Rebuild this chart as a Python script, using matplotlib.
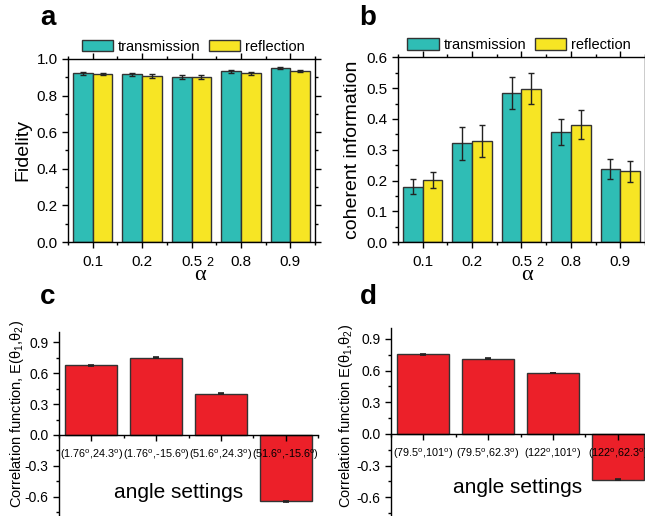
import numpy as np
import matplotlib.pyplot as plt
from matplotlib.patches import Patch
from matplotlib.ticker import MultipleLocator

plt.rcParams['font.family'] = ['Liberation Sans', 'DejaVu Sans']
plt.rcParams['axes.unicode_minus'] = False
plt.rcParams['mathtext.fontset'] = 'custom'
plt.rcParams['mathtext.rm'] = 'Liberation Sans'
plt.rcParams['mathtext.it'] = 'Liberation Sans'

# data
alpha2 = ['0.1', '0.2', '0.5', '0.8', '0.9']
fid_trans = [0.923, 0.916, 0.899, 0.934, 0.950]
fid_trans_err = [0.008, 0.010, 0.011, 0.008, 0.006]
fid_refl = [0.918, 0.907, 0.901, 0.922, 0.935]
fid_refl_err = [0.007, 0.011, 0.010, 0.009, 0.006]

ci_trans = [0.181, 0.321, 0.485, 0.358, 0.238]
ci_trans_err = [0.025, 0.053, 0.051, 0.043, 0.032]
ci_refl = [0.202, 0.329, 0.498, 0.382, 0.230]
ci_refl_err = [0.027, 0.051, 0.050, 0.046, 0.033]

angles_c = ['(1.76$^o$,24.3$^o$)', '(1.76$^o$,-15.6$^o$)', '(51.6$^o$,24.3$^o$)', '(51.6$^o$,-15.6$^o$)']
corr_c = [0.676, 0.747, 0.400, -0.642]
corr_c_err = [0.004, 0.004, 0.004, 0.004]
angles_d = ['(79.5$^o$,101$^o$)', '(79.5$^o$,62.3$^o$)', '(122$^o$,101$^o$)', '(122$^o$,62.3$^o$)']
corr_d = [0.756, 0.714, 0.577, -0.434]
corr_d_err = [0.004, 0.004, 0.004, 0.004]

TEAL = '#2fbdb5'
YELLOW = '#f7e524'
RED = '#ec2029'
EDGE = '#333333'

fig = plt.figure(figsize=(6.45, 5.16), dpi=100)


def top_panel(ax, trans, terr, refl, rerr, ylim, major, minor, ylabel, leg_x):
    x = np.arange(len(alpha2))
    ax.bar(x - 0.2, trans, 0.4, color=TEAL, edgecolor=EDGE, linewidth=1, zorder=2)
    ax.bar(x + 0.2, refl, 0.4, color=YELLOW, edgecolor=EDGE, linewidth=1, zorder=2)
    ax.errorbar(x - 0.2, trans, yerr=terr, fmt='none', ecolor='#222222', elinewidth=1, capsize=2.2, capthick=1, zorder=3)
    ax.errorbar(x + 0.2, refl, yerr=rerr, fmt='none', ecolor='#222222', elinewidth=1, capsize=2.2, capthick=1, zorder=3)
    ax.set_xlim(-0.5, 4.5)
    ax.set_ylim(*ylim)
    ax.set_xticks(x)
    ax.set_xticklabels(alpha2)
    ax.xaxis.set_minor_locator(MultipleLocator(0.5))
    ax.yaxis.set_major_locator(MultipleLocator(major))
    ax.yaxis.set_minor_locator(MultipleLocator(minor))
    ax.tick_params(which='both', labelsize=11, direction='out', top=True, right=True, width=1)
    ax.tick_params(which='major', length=4)
    ax.tick_params(which='minor', length=2.5)
    ax.tick_params(axis='x', which='major', pad=5)
    for sp in ax.spines.values():
        sp.set_linewidth(1)
    ax.set_ylabel(ylabel, fontsize=14, labelpad=4)
    handles = [Patch(facecolor=TEAL, edgecolor=EDGE, label='transmission'),
               Patch(facecolor=YELLOW, edgecolor=EDGE, label='reflection')]
    ax.legend(handles=handles, ncol=2, loc='lower left', bbox_to_anchor=(leg_x, 0.99),
              frameon=False, fontsize=10.5, borderpad=0, handlelength=2.15,
              handleheight=0.85, handletextpad=0.35, columnspacing=0.55)


ax_a = fig.add_axes([0.1054, 0.531, 0.383, 0.3547])
top_panel(ax_a, fid_trans, fid_trans_err, fid_refl, fid_refl_err, (0, 1.0), 0.2, 0.1, 'Fidelity', 0.026)

ax_b = fig.add_axes([0.617, 0.5304, 0.383, 0.3585])
top_panel(ax_b, ci_trans, ci_trans_err, ci_refl, ci_refl_err, (0, 0.6), 0.1, 0.05, 'coherent information', 0.009)


def bottom_panel(ax, labels, vals, errs, ylabel, lab_xy, txt_xy):
    x = np.arange(len(labels))
    ax.bar(x, vals, 0.8, color=RED, edgecolor=EDGE, linewidth=1, zorder=1)
    ax.errorbar(x, vals, yerr=errs, fmt='none', ecolor='#222222', elinewidth=1, capsize=2, capthick=1.2, zorder=3)
    ax.set_xlim(-0.5, 3.5)
    ax.set_ylim(-0.9, 1.0)
    ax.spines['top'].set_visible(False)
    ax.spines['right'].set_visible(False)
    ax.spines['bottom'].set_position(('data', 0))
    ax.set_xticks(x)
    ax.set_xticklabels(labels, fontsize=7.8)
    ax.xaxis.set_minor_locator(MultipleLocator(0.5))
    ax.yaxis.set_minor_locator(MultipleLocator(0.15))
    ax.set_yticks([-0.6, -0.3, 0.0, 0.3, 0.6, 0.9])
    ax.tick_params(axis='y', which='both', labelsize=10, direction='out', width=1)
    ax.tick_params(axis='x', which='both', direction='out', width=1, pad=5)
    ax.tick_params(which='major', length=4)
    ax.tick_params(which='minor', length=2.5)
    for sp in ax.spines.values():
        sp.set_linewidth(1)
    ax.set_ylabel(ylabel, fontsize=10.5)
    ax.yaxis.set_label_coords(*lab_xy)
    ax.text(txt_xy[0], txt_xy[1], 'angle settings', fontsize=15, ha='center', va='center')


ax_c = fig.add_axes([0.0915, -0.023, 0.402, 0.380])
bottom_panel(ax_c, angles_c, corr_c, corr_c_err, r'Correlation function, E($\theta_1$,$\theta_2$)',
             (-0.127, 0.58), (1.35, -0.555))

ax_d = fig.add_axes([0.606, -0.025, 0.402, 0.3886])
bottom_panel(ax_d, angles_d, corr_d, corr_d_err, r'Correlation function E($\theta_1$,$\theta_2$)',
             (-0.138, 0.565), (1.45, -0.51))

# alpha^2 axis labels of the top panels
for xa, x2 in [(200, 210), (527, 540)]:
    fig.text(xa / 645, 1 - 276 / 516, '\u03b1', fontsize=16, family='Liberation Serif', ha='center', va='center')
    fig.text(x2 / 645, 1 - 263 / 516, '2', fontsize=9, ha='center', va='center')

# panel letters
for lab, px, py in [('a', 48, 18), ('b', 368, 18), ('c', 48, 297), ('d', 368, 297)]:
    fig.text(px / 645, 1 - py / 516, lab, fontsize=20, fontweight='bold', ha='center', va='center')

fig.savefig('out.png', dpi=100)
